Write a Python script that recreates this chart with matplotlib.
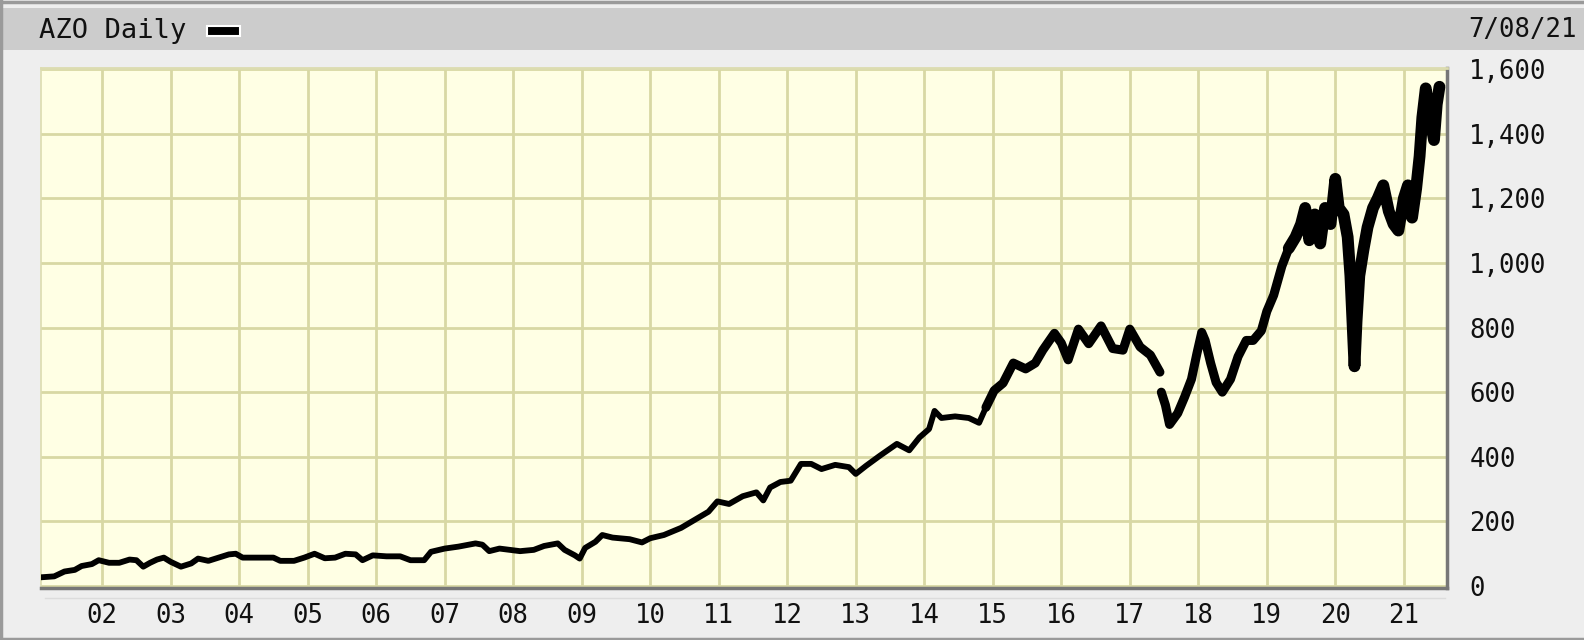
import numpy as np
import matplotlib
matplotlib.use("Agg")
import matplotlib.pyplot as plt
from matplotlib.patches import Rectangle
from matplotlib.lines import Line2D

# ---- data ----
title = "AZO Daily"
date_label = "7/08/21"
year_ticks = list(range(2002, 2022))
year_labels = ["02", "03", "04", "05", "06", "07", "08", "09", "10", "11",
               "12", "13", "14", "15", "16", "17", "18", "19", "20", "21"]
price_ticks = [0, 200, 400, 600, 800, 1000, 1200, 1400, 1600]
price_labels = ["0", "200", "400", "600", "800", "1,000", "1,200", "1,400", "1,600"]

t = [2001.10, 2001.30, 2001.45, 2001.60, 2001.70, 2001.85, 2001.95, 2002.10, 2002.25, 2002.40,
     2002.50, 2002.60, 2002.70, 2002.80, 2002.90, 2003.00, 2003.15, 2003.30, 2003.40, 2003.55,
     2003.70, 2003.85, 2003.95, 2004.05, 2004.30, 2004.50, 2004.60, 2004.80, 2004.95, 2005.10,
     2005.25, 2005.40, 2005.55, 2005.70, 2005.80, 2005.95, 2006.15, 2006.35, 2006.50, 2006.70,
     2006.80, 2007.00, 2007.20, 2007.45, 2007.55, 2007.65, 2007.80, 2007.95, 2008.10, 2008.30,
     2008.45, 2008.65, 2008.75, 2008.90, 2008.97, 2009.05, 2009.20, 2009.30, 2009.45, 2009.70,
     2009.88, 2010.00, 2010.20, 2010.45, 2010.65, 2010.85, 2010.98, 2011.15, 2011.35, 2011.55,
     2011.65, 2011.75, 2011.90, 2012.05, 2012.20, 2012.35, 2012.50, 2012.70, 2012.90, 2013.00,
     2013.15, 2013.35, 2013.50, 2013.60, 2013.78, 2013.93, 2014.07, 2014.15, 2014.25, 2014.45,
     2014.65, 2014.80, 2014.90, 2015.02, 2015.15, 2015.30, 2015.48, 2015.62, 2015.73, 2015.90,
     2016.00, 2016.10, 2016.25, 2016.40, 2016.58, 2016.75, 2016.90, 2017.00, 2017.15, 2017.30,
     2017.44, 2017.45, 2017.46, 2017.52, 2017.58, 2017.70, 2017.80, 2017.90, 2017.98, 2018.05,
     2018.10, 2018.18, 2018.26, 2018.35, 2018.47, 2018.58, 2018.70, 2018.80, 2018.92, 2019.00,
     2019.10, 2019.22, 2019.32, 2019.42, 2019.50, 2019.56, 2019.62, 2019.70, 2019.78, 2019.85,
     2019.93, 2020.00, 2020.05, 2020.12, 2020.18, 2020.22, 2020.25, 2020.28, 2020.31, 2020.35,
     2020.41, 2020.47, 2020.55, 2020.62, 2020.70, 2020.78, 2020.85, 2020.92, 2021.00, 2021.06,
     2021.12, 2021.18, 2021.23, 2021.27, 2021.32, 2021.38, 2021.44, 2021.48, 2021.52]
price = [27, 30, 45, 50, 62, 68, 80, 72, 72, 82,
         80, 60, 72, 82, 88, 75, 60, 70, 85, 78,
         88, 98, 100, 88, 88, 88, 78, 78, 88, 100,
         86, 88, 100, 98, 80, 95, 92, 92, 80, 80,
         106, 116, 122, 132, 128, 108, 116, 112, 108, 112,
         124, 132, 112, 95, 85, 118, 137, 158, 150, 145,
         135, 148, 158, 180, 205, 230, 262, 254, 278, 290,
         265, 305, 322, 326, 378, 378, 362, 375, 368, 347,
         372, 403, 425, 440, 420, 460, 486, 542, 520, 525,
         520, 505, 553, 605, 628, 690, 672, 690, 730, 782,
         752, 700, 795, 750, 805, 735, 730, 795, 740, 715,
         662, np.nan, 600, 560, 500, 535, 585, 640, 720, 785,
         760, 690, 630, 600, 640, 710, 760, 760, 790, 850,
         900, 990, 1045, 1080, 1120, 1170, 1070, 1150, 1060, 1170,
         1120, 1260, 1170, 1150, 1080, 960, 820, 680, 820, 960,
         1040, 1110, 1170, 1200, 1240, 1160, 1120, 1100, 1200, 1240,
         1140, 1230, 1330, 1450, 1540, 1450, 1380, 1490, 1545]

# ---- figure ----
W, H = 1584, 640
fig = plt.figure(figsize=(W / 100, H / 100), dpi=100)
fig.patch.set_facecolor("#EEEEEE")

def fx(px):
    return px / W

def fy(py):
    return 1 - py / H

def prect(x0, y0, x1, y1, **kw):
    r = Rectangle((fx(x0), fy(y1)), fx(x1) - fx(x0), fy(y0) - fy(y1),
                  transform=fig.transFigure, **kw)
    fig.add_artist(r)
    return r

def pline(x0, y0, x1, y1, **kw):
    l = Line2D([fx(x0), fx(x1)], [fy(y0), fy(y1)], transform=fig.transFigure, **kw)
    fig.add_artist(l)

# header band
prect(3, 8, W, 50, facecolor="#CCCCCC", edgecolor="none", zorder=0)
# outer border
pline(1, 0, 1, H, color="#9A9A9A", lw=2.5)
pline(0, 1.5, W, 1.5, color="#9A9A9A", lw=2.5)
pline(0, H - 1.5, W, H - 1.5, color="#9A9A9A", lw=2.5)
# separator below plot
pline(45, 598, 1445, 598, color="#DCDCDC", lw=1)

mono = "DejaVu Sans Mono"
fs = 18.5
fig.text(fx(39), fy(31), title, family=mono, fontsize=19.5, va="center", ha="left", color="#111111")
prect(207, 26, 240, 36, facecolor="black", edgecolor="white", lw=1.5, zorder=3)
fig.text(fx(1468), fy(30), date_label, family=mono, fontsize=fs, va="center", ha="left", color="#111111")

# plot axes
left, right, top, bottom = 40.5, 1447, 68, 588
ax = fig.add_axes([fx(left), fy(bottom), fx(right) - fx(left), fy(top) - fy(bottom)])
ax.set_facecolor("#FFFFE4")

tt = np.array(t)
pp = np.array(price, dtype=float)
# the daily scatter of the original gets wider as the price gets more volatile
ax.plot(tt, pp, color="black", lw=4.2, solid_joinstyle="round", solid_capstyle="round", zorder=3)
m1 = tt >= 2014.9
ax.plot(tt[m1], pp[m1], color="black", lw=6.5, solid_joinstyle="round", solid_capstyle="round", zorder=3)
m2 = tt >= 2019.3
ax.plot(tt[m2], pp[m2], color="black", lw=8.5, solid_joinstyle="round", solid_capstyle="round", zorder=3)

ax.set_xlim(2001.10, 2021.63)
ax.set_ylim(-6, 1603)
ax.set_xticks(year_ticks)
ax.set_xticklabels(year_labels)
ax.set_yticks(price_ticks)
ax.set_yticklabels(price_labels)
ax.yaxis.tick_right()
ax.tick_params(axis="both", length=0, labelsize=fs, labelcolor="#111111")
ax.tick_params(axis="y", pad=16)
ax.tick_params(axis="x", pad=11)
for lab in ax.get_xticklabels() + ax.get_yticklabels():
    lab.set_family(mono)
ax.grid(True, color="#D8D8A4", lw=2.0, zorder=1)
ax.set_axisbelow(True)

ax.spines["left"].set_color("#DCDCB0")
ax.spines["left"].set_linewidth(1.2)
ax.spines["top"].set_color("#DCDCB0")
ax.spines["top"].set_linewidth(2.0)
ax.spines["right"].set_color("#777777")
ax.spines["right"].set_linewidth(2.5)
ax.spines["bottom"].set_color("#777777")
ax.spines["bottom"].set_linewidth(2.5)

fig.savefig("out.png", dpi=100, facecolor=fig.get_facecolor())
